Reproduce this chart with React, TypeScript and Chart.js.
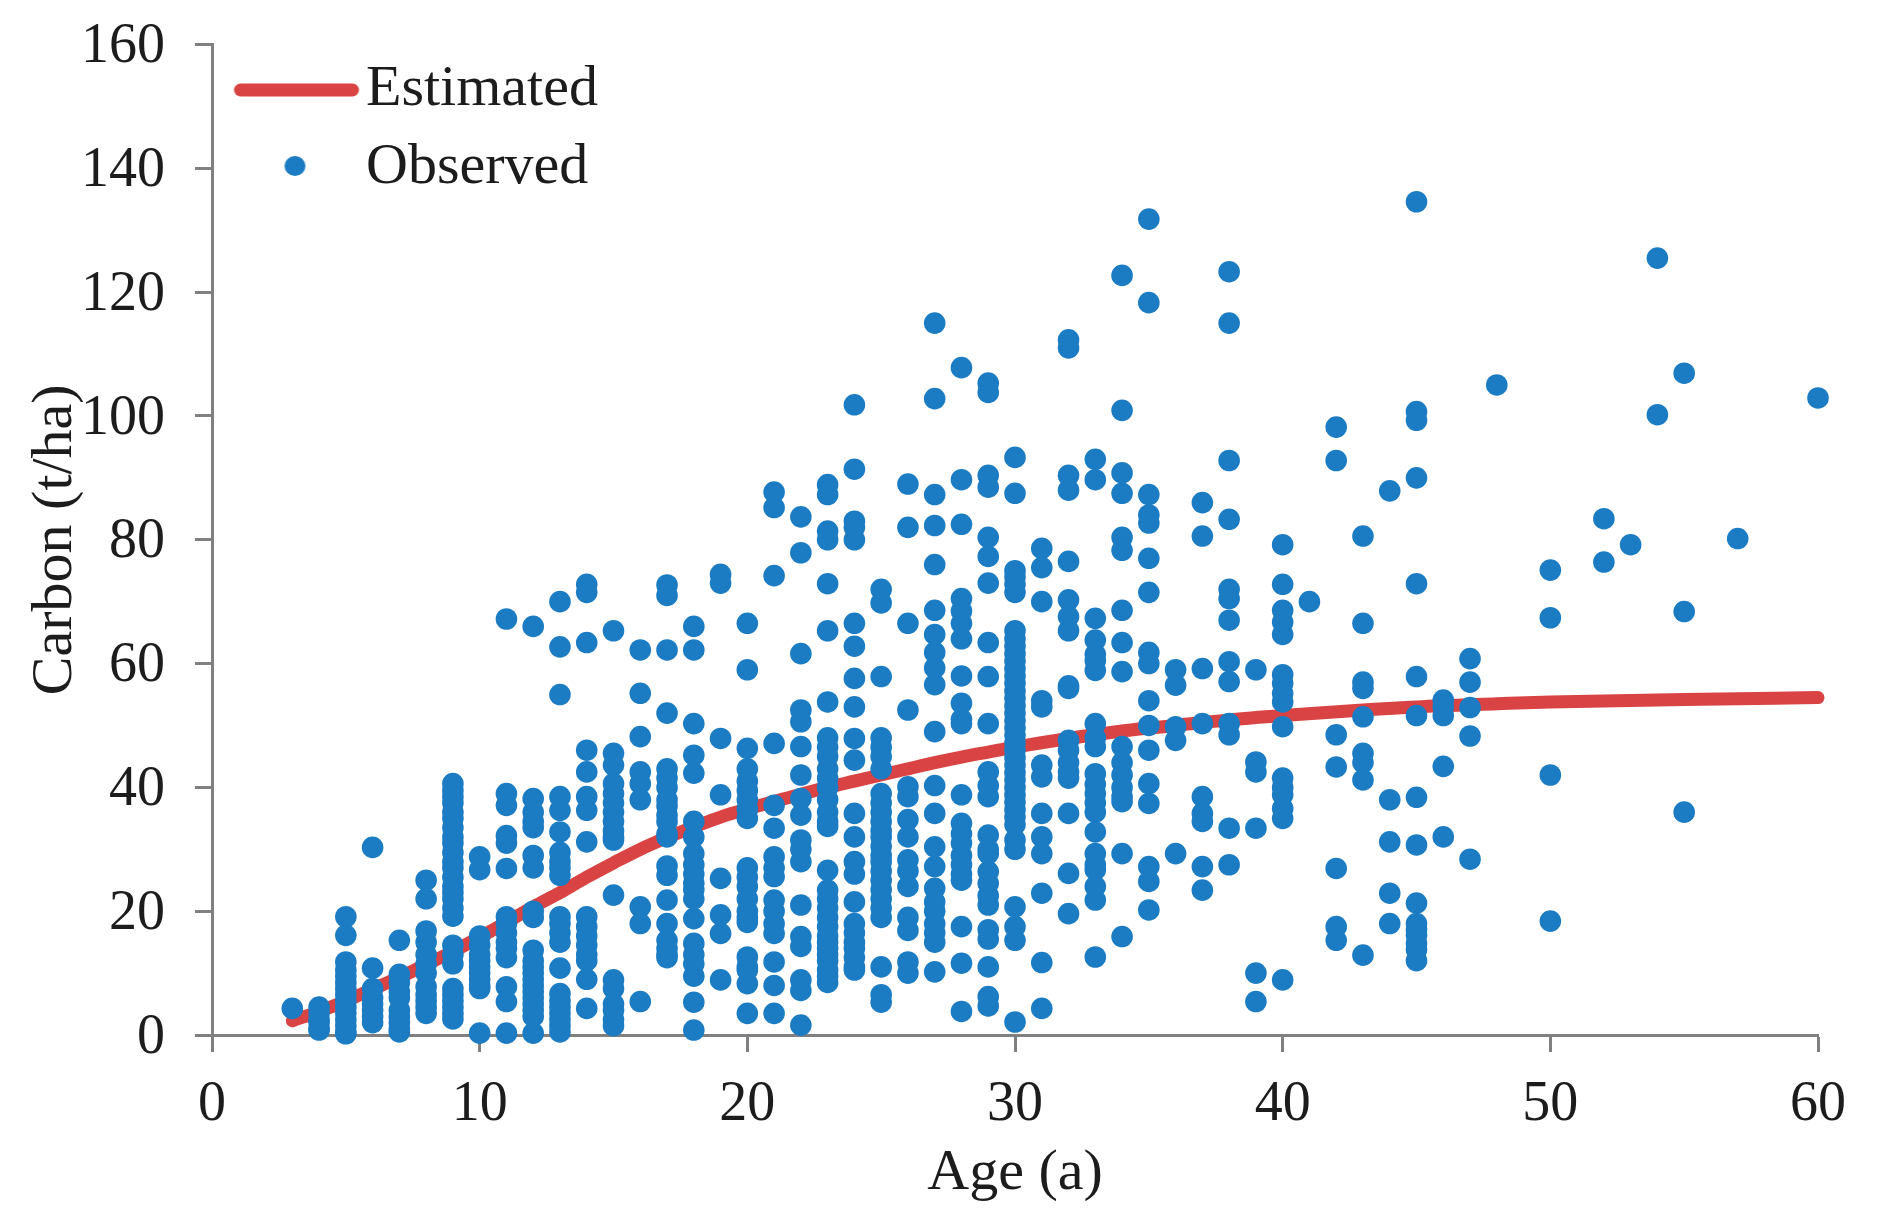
import React, { useEffect, useRef } from "react";
import { Chart, registerables } from "chart.js";

Chart.register(...registerables);

const xTicks = [0, 10, 20, 30, 40, 50, 60];
const yTicks = [0, 20, 40, 60, 80, 100, 120, 140, 160];

const curveAges = [3, 4, 5, 6, 7, 8, 9, 10, 11, 12, 13, 14, 15, 16, 17, 18, 19, 20, 21, 22, 23, 24, 25, 26, 27, 28, 29, 30, 32, 34, 36, 38, 40, 43, 45, 48, 50, 55, 60];
const curveCarbon = [2.3, 3.8, 5.5, 7.4, 9.3, 11.4, 13.5, 15.8, 18.2, 20.7, 23, 25.5, 27.8, 30, 31.9, 33.6, 35.2, 36.5, 37.7, 38.9, 40, 41, 42, 43, 44, 44.9, 45.7, 46.5, 47.9, 49.1, 50, 50.9, 51.6, 52.5, 53, 53.5, 53.8, 54.2, 54.5];

const observedAges = [3, 4, 5, 6, 7, 8, 9, 10, 11, 12, 13, 14, 15, 16, 17, 18, 19, 20, 21, 22, 23, 24, 25, 26, 27, 28, 29, 30, 31, 32, 33, 34, 35, 36, 37, 38, 39, 40, 41, 42, 43, 44, 45, 46, 47, 48, 50, 52, 53, 54, 55, 57, 60];
const observedCarbon = [
  [4.3],
  [4.5, 3.5, 2.5, 2, 1, 0.8],
  [19.1, 16.1, 11.8, 10.5, 9.5, 8.5, 7.5, 6.5, 5.5, 4.5, 3.5, 2.5, 1.5, 0.5, 0.2],
  [30.3, 10.8, 7.5, 6, 5, 4, 3, 2],
  [15.3, 9.8, 8.5, 7, 6, 4, 3, 2, 1, 0.5],
  [25, 22, 16.8, 15, 13, 11.5, 10, 7.8, 6.5, 5.5, 4.5, 3.5],
  [40.6, 39.5, 38.5, 37.5, 36, 35, 33.5, 32, 31, 29.5, 28, 27, 25.5, 24, 23, 22, 20.5, 19.2, 14.5, 13, 11.5, 7.5, 6.5, 5.5, 4.5, 3.5, 2.6],
  [28.8, 26.7, 16, 14.5, 13, 12, 11, 10, 9, 8, 7.5, 0.3],
  [67.2, 39, 37.1, 32.2, 31, 26.9, 19.1, 18, 16.5, 15, 14, 12.5, 7.8, 5.4, 0.3],
  [66, 38.2, 36, 34.5, 33.5, 29, 27, 20, 19, 13.7, 12, 11, 10, 9, 8, 7, 6, 5, 4, 3, 0.3],
  [70, 62.7, 55, 38.5, 36.3, 32.8, 29.5, 28, 27, 25.8, 19.1, 18, 16.5, 15, 10.8, 6.7, 5.5, 4.5, 3.5, 2.5, 1.5, 0.5],
  [72.8, 71.5, 63.4, 46, 42.5, 38.5, 36.3, 31.2, 19.1, 17.5, 16, 14.5, 13, 12, 9, 4.3],
  [65.3, 45.5, 43.6, 40.6, 39, 37.5, 36, 34.5, 33, 32, 31.5, 22.6, 8.9, 7.5, 5, 4, 2.5, 1.5],
  [62.2, 55.2, 48.2, 42.5, 40.6, 38, 20.7, 18, 5.4],
  [72.7, 71, 62.2, 52, 43, 41.5, 40, 38, 37, 35.5, 34.5, 32.5, 32, 27.3, 25.8, 21.8, 18, 15.3, 14, 13, 12.5],
  [66, 62.2, 50.3, 45.2, 42.3, 34.5, 32, 29.3, 27.5, 26, 24.5, 23.5, 22, 18.8, 14.8, 13, 11.5, 9.5, 5.3, 0.8],
  [74.4, 73, 47.9, 38.8, 25.3, 19.4, 16.4, 8.9],
  [66.5, 59, 46.3, 43, 41, 39.5, 38, 36.5, 35, 27, 25.5, 24, 22, 20, 19, 18.2, 12.6, 11, 10.5, 8.3, 3.5],
  [87.7, 85.2, 74.2, 47.1, 37.1, 33.4, 28.8, 27, 25.6, 21.8, 20, 18, 16.4, 11.8, 8, 3.5],
  [83.7, 77.9, 61.6, 52.5, 50.6, 46.6, 42, 38.2, 35.5, 31.5, 30, 28, 21, 15.9, 14.3, 8.9, 7.2, 1.6],
  [88.9, 87.3, 81.4, 80, 72.9, 65.3, 53.8, 48, 46.5, 45, 43, 41.5, 40, 38, 36, 34.5, 33.7, 26.6, 23.4, 22, 20.5, 19, 17.5, 16, 15, 14, 13, 12, 10.5, 9.5, 8.5],
  [101.8, 91.4, 83, 82, 80, 66.5, 62.8, 57.6, 53, 47.9, 44.4, 35.8, 32, 28, 26, 21.5, 18, 16.5, 15, 14, 12.5, 11, 10.5],
  [72, 69.8, 57.9, 48, 46.5, 45, 43, 39, 37.5, 36, 34.5, 33, 32, 30.5, 29, 28, 26.5, 25, 23.5, 22, 20.5, 19, 11, 6.5, 5.3],
  [89, 82, 66.5, 52.5, 40.1, 38.5, 34.8, 32, 28.3, 26.5, 24, 19, 16.9, 11.8, 10],
  [115, 102.8, 87.3, 82.3, 76, 68.6, 64.7, 61.8, 59.3, 56.6, 49, 40.3, 35.8, 30.4, 27.2, 23.7, 21.5, 20, 18, 16.5, 15, 10.2],
  [107.8, 89.7, 82.5, 70.5, 68.5, 66.5, 64, 58, 53.6, 51, 50.3, 38.8, 34.2, 32.5, 31, 29, 27.5, 26, 25, 17.5, 11.6, 3.8],
  [105.3, 103.8, 90.4, 88.5, 80.4, 77.3, 73, 63.4, 57.9, 50.3, 42.5, 40.3, 38.5, 32.3, 30, 29.3, 26.4, 24.5, 22.5, 21, 17, 15.5, 11, 6.2, 4.7],
  [93.3, 87.5, 75, 74, 72.8, 71.5, 65.3, 64, 62.8, 61.6, 60.4, 59.2, 58, 56.8, 55.6, 54.4, 53.2, 52, 50.8, 49.6, 48.4, 47.2, 46, 44.8, 43.6, 42.4, 41.2, 40, 38.8, 37.6, 36.4, 35.2, 34, 31.5, 30, 20.7, 17.5, 15.3, 2.1],
  [78.6, 75.5, 70, 54, 53, 43.6, 41.7, 35.8, 32, 29.3, 22.9, 11.7, 4.3],
  [112.3, 111, 90.4, 88, 76.5, 70.3, 67.6, 65.3, 56.4, 56, 47.6, 46, 44, 42.5, 41.5, 35.8, 26.1, 19.6],
  [93, 89.7, 67.3, 63.8, 61.5, 60.5, 58.9, 50.3, 48, 46.6, 42.2, 40.5, 39, 37.5, 36, 32.8, 29.3, 27.5, 26.7, 24, 21.8, 12.6],
  [122.7, 100.9, 90.8, 87.5, 80.4, 78.3, 68.6, 63.4, 58.7, 46.6, 44, 42, 40, 38.5, 37.7, 29.3, 15.9],
  [131.8, 118.3, 87.3, 84, 82.7, 77, 71.5, 61.8, 60, 54, 50, 46, 40.6, 37.4, 27.2, 24.8, 20.2],
  [59, 56.5, 49.8, 47.6, 29.3],
  [86, 80.6, 59.2, 50.3, 38.5, 35.8, 34.5, 27.2, 23.4],
  [123.3, 115, 92.8, 83.3, 72, 70.5, 67, 60.3, 57.1, 50.3, 48.5, 33.4, 27.5],
  [59, 44.1, 42.5, 33.4, 10, 5.4],
  [79.2, 72.8, 68.6, 66.7, 64.7, 58.2, 56.8, 55.2, 53.8, 49.8, 41.5, 40, 38.8, 36.6, 35, 8.9],
  [70],
  [98.2, 92.8, 48.5, 43.3, 26.9, 17.5, 15.3],
  [80.6, 66.5, 57, 56, 51.4, 45.5, 44, 41.2, 12.9],
  [87.9, 38, 31.2, 22.9, 18],
  [134.6, 100.7, 99.3, 90, 72.9, 57.9, 51.6, 38.4, 30.7, 21.3, 18, 17, 16.1, 14.8, 13.8, 12],
  [54.1, 53, 51.6, 43.4, 32],
  [60.8, 57, 52.9, 48.3, 28.4],
  [105],
  [75.1, 67.4, 42, 18.4],
  [83.4, 76.4],
  [79.2],
  [125.5, 100.2],
  [106.9, 68.4, 36],
  [80.2],
  [102.9],
];

const FONT = "'Liberation Serif', 'Times New Roman', serif";
const TEXT = "#1c1c1c";
const AXIS = "#808080";
const RED = "#d94343";
const BLUE = "#1c7cc3";

function lineSwatch() {
  const c = document.createElement("canvas");
  c.width = 160;
  c.height = 30;
  const g = c.getContext("2d")!;
  g.strokeStyle = RED;
  g.lineWidth = 13;
  g.lineCap = "round";
  g.beginPath();
  g.moveTo(36, 15);
  g.lineTo(148, 15);
  g.stroke();
  return c;
}

function dotSwatch() {
  const c = document.createElement("canvas");
  c.width = 160;
  c.height = 30;
  const g = c.getContext("2d")!;
  g.fillStyle = BLUE;
  g.beginPath();
  g.ellipse(90.5, 13, 10.5, 10, 0, 0, Math.PI * 2);
  g.fill();
  return c;
}

export default function App() {
  const ref = useRef<HTMLCanvasElement | null>(null);

  useEffect(() => {
    if (!ref.current) return;
    const swatches = [lineSwatch(), dotSwatch()];
    const points = observedAges.flatMap((x, i) => observedCarbon[i].map((y) => ({ x, y })));
    const curve = curveAges.map((x, i) => ({ x, y: curveCarbon[i] }));
    const chart = new Chart(ref.current, {
      type: "scatter",
      data: {
        datasets: [
          {
            label: "Estimated",
            data: curve,
            showLine: true,
            borderColor: RED,
            backgroundColor: RED,
            borderWidth: 13,
            borderCapStyle: "round",
            borderJoinStyle: "round",
            cubicInterpolationMode: "monotone",
            pointRadius: 0,
            order: 2,
            clip: false,
          },
          {
            label: "Observed",
            data: points,
            showLine: false,
            backgroundColor: BLUE,
            borderColor: BLUE,
            borderWidth: 0,
            pointRadius: 10.8,
            order: 1,
            clip: false,
          },
        ],
      },
      options: {
        responsive: false,
        animation: false,
        devicePixelRatio: 1,
        layout: { padding: { top: 44.5, right: 59, left: 0, bottom: 0 } },
        plugins: {
          tooltip: { enabled: false },
          title: { display: false },
          legend: {
            display: true,
            position: "chartArea",
            align: "start",
            title: { display: true, text: "", font: { size: 10, lineHeight: 1 }, padding: { top: 31, bottom: 0 } },
            labels: {
              usePointStyle: true,
              pointStyleWidth: 105,
              boxHeight: 30,
              padding: 20,
              color: TEXT,
              font: { family: FONT, size: 58, lineHeight: 1.2 },
              sort: (a: any, b: any) => a.datasetIndex - b.datasetIndex,
              generateLabels: (c: any) =>
                Chart.defaults.plugins.legend.labels
                  .generateLabels(c)
                  .map((item: any) => ({ ...item, pointStyle: swatches[item.datasetIndex] })),
            },
          },
        },
        scales: {
          x: {
            type: "linear",
            min: 0,
            max: 60,
            afterFit: (s: any) => {
              s.height = 187;
            },
            afterBuildTicks: (s: any) => {
              s.ticks = xTicks.map((value) => ({ value }));
            },
            grid: { drawOnChartArea: false, drawTicks: true, tickLength: 17, tickColor: AXIS, tickWidth: 3 },
            border: { color: AXIS, width: 3 },
            ticks: { color: TEXT, font: { family: FONT, size: 56 }, padding: 20, maxRotation: 0 },
            title: {
              display: true,
              text: "Age (a)",
              color: TEXT,
              font: { family: FONT, size: 58, lineHeight: 1.2 },
              padding: { top: 0, bottom: 13 },
            },
          },
          y: {
            type: "linear",
            min: 0,
            max: 160,
            afterFit: (s: any) => {
              s.width = 212;
              s.paddingTop = 0;
              s.paddingBottom = 0;
            },
            afterBuildTicks: (s: any) => {
              s.ticks = yTicks.map((value) => ({ value }));
            },
            grid: { drawOnChartArea: false, drawTicks: true, tickLength: 17, tickColor: AXIS, tickWidth: 3 },
            border: { color: AXIS, width: 3 },
            ticks: { color: TEXT, font: { family: FONT, size: 56 }, padding: 30, labelOffset: 3 },
            title: {
              display: true,
              text: "Carbon (t/ha)",
              color: TEXT,
              font: { family: FONT, size: 58, lineHeight: 1.2 },
              padding: { top: 21, bottom: 0 },
            },
          },
        },
      },
    } as any);
    return () => chart.destroy();
  }, []);

  return (
    <div style={{ position: "absolute", left: 0, top: 0, background: "#fff" }}>
      <canvas ref={ref} width={1877} height={1222} style={{ display: "block" }} />
    </div>
  );
}
